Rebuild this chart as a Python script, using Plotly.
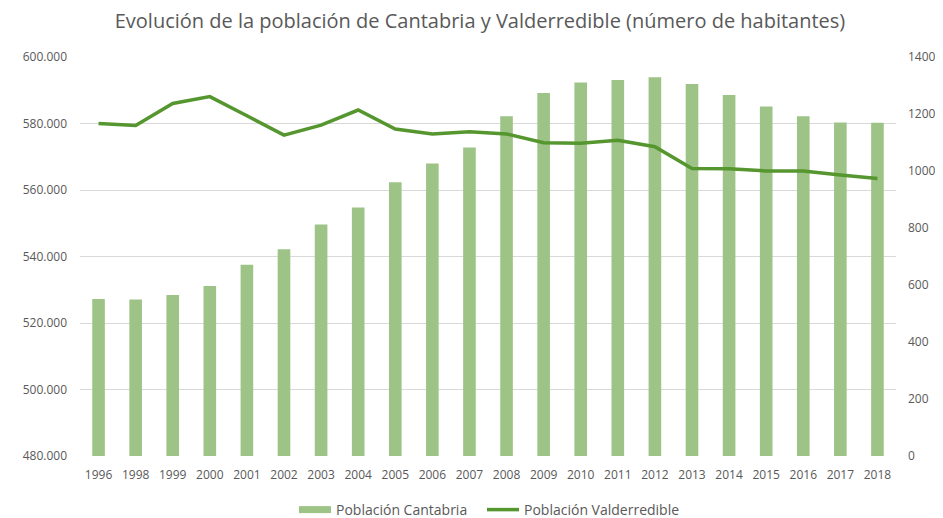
import plotly.graph_objects as go

years = ["1996", "1998", "1999", "2000", "2001", "2002", "2003", "2004", "2005", "2006", "2007",
         "2008", "2009", "2010", "2011", "2012", "2013", "2014", "2015", "2016", "2017", "2018"]
cantabria = [527200, 527100, 528400, 531100, 537500, 542200, 549600, 554700, 562300, 568000, 572800,
             582200, 589200, 592300, 593100, 593900, 591900, 588600, 585100, 582200, 580300, 580200]
valderredible = [1167, 1160, 1237, 1261, 1194, 1126, 1161, 1214, 1147, 1130, 1138,
                 1130, 1099, 1097, 1108, 1085, 1009, 1008, 1000, 1000, 986, 974]

left_ticks = [480000, 500000, 520000, 540000, 560000, 580000, 600000]
right_ticks = [0, 200, 400, 600, 800, 1000, 1200, 1400]

txt = "#595959"
bar_color = "#9dc386"
line_color = "#55962f"

# page body has an 8px default margin, so the figure is 8px smaller than the window
W, H = 935, 510

fig = go.Figure()
fig.add_trace(go.Bar(x=years, y=cantabria, name="Población Cantabria", showlegend=False,
                     marker=dict(color=bar_color, line=dict(width=0)), yaxis="y"))
fig.add_trace(go.Scatter(x=years, y=valderredible, name="Población Valderredible", mode="lines",
                         showlegend=False,
                         line=dict(color=line_color, width=3.5), yaxis="y2"))
# legend-only entries (wide swatch for bars, like the original)
fig.add_trace(go.Scatter(x=[None], y=[None], name="Población Cantabria", mode="lines",
                         line=dict(color=bar_color, width=7), yaxis="y", legend="legend"))
fig.add_trace(go.Scatter(x=[None], y=[None], name="Población Valderredible", mode="lines",
                         line=dict(color=line_color, width=3.5), yaxis="y2", legend="legend2"))

leg_common = dict(orientation="h", xref="container", xanchor="left", yref="container",
                  y=8 / H, yanchor="middle", itemwidth=32,
                  font=dict(size=14, color=txt), bgcolor="rgba(0,0,0,0)")

fig.update_layout(
    width=W, height=H,
    margin=dict(l=72, r=47, t=49, b=62, autoexpand=False),
    paper_bgcolor="white", plot_bgcolor="white",
    separators=",.",
    title=dict(text="Evolución de la población de Cantabria y Valderredible (número de habitantes)",
               xref="container", x=472 / W, xanchor="center", yref="container",
               y=1 - 13 / H, yanchor="middle",
               font=dict(family="Open Sans", size=20, color=txt)),
    font=dict(family="Open Sans", size=12, color=txt),
    bargap=0.66,
    showlegend=True,
    legend=dict(x=286 / W, **leg_common),
    legend2=dict(x=474 / W, **leg_common),
    xaxis=dict(type="category", showgrid=False, showline=False, ticks="",
               ticklabelstandoff=10,
               tickfont=dict(size=12, color=txt)),
    yaxis=dict(range=[480000, 600000], tickvals=left_ticks, tickformat=",d",
               showgrid=True, gridcolor="#d9d9d9", gridwidth=1, zeroline=False,
               showline=False, ticks="", ticklabelstandoff=12,
               tickfont=dict(size=12, color=txt)),
    yaxis2=dict(range=[0, 1400], tickvals=right_ticks, overlaying="y", side="right",
                showgrid=False, zeroline=False, showline=False, ticklabelstandoff=11,
                tickfont=dict(size=12, color=txt)),
    hovermode=False,
)

fig.write_html("out.html")
